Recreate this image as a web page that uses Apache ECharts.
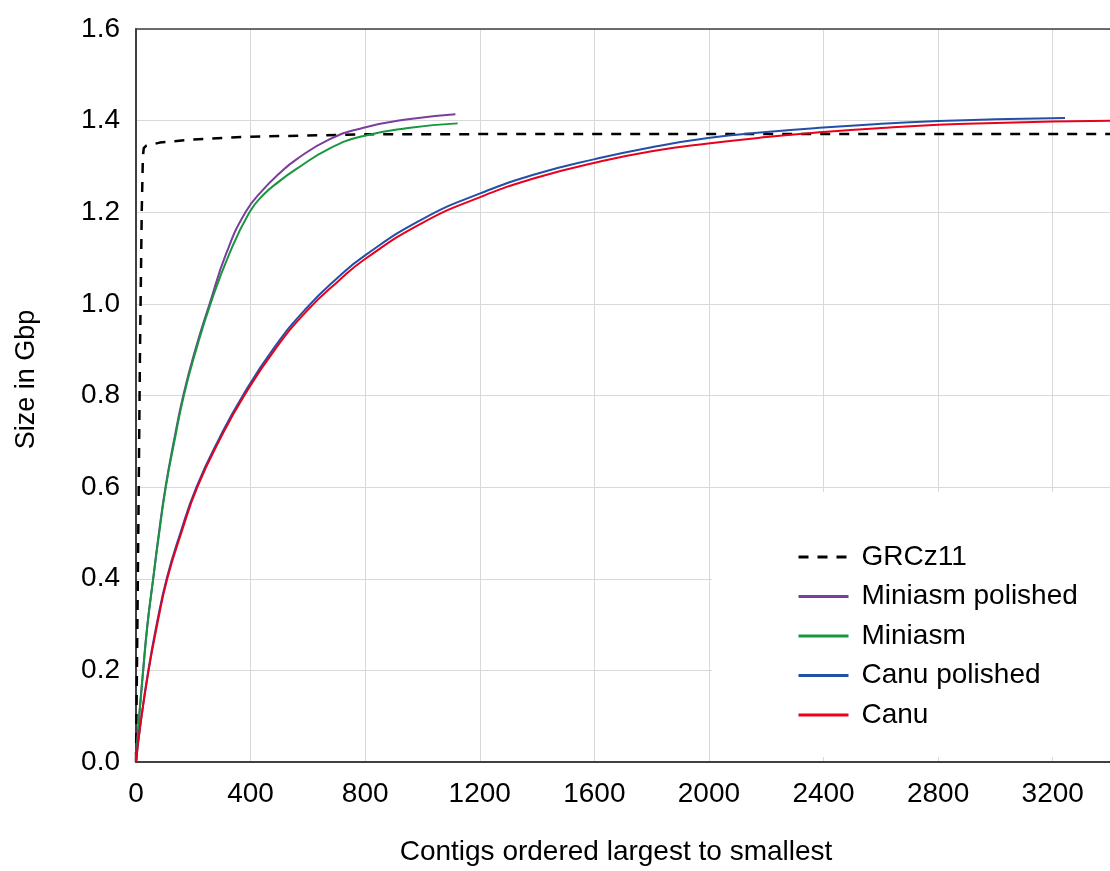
<!DOCTYPE html>
<html>
<head>
<meta charset="utf-8">
<script src="https://cdn.jsdelivr.net/npm/echarts@6/dist/echarts.min.js"></script>
<style>
  html, body { margin: 0; padding: 0; background: #fff; }
  #chart { width: 1110px; height: 871px; }
</style>
</head>
<body>
<div id="chart"></div>
<script>
'use strict';

// contigs (x) and cumulative size in Gbp (y)
const grcX = [0, 8, 14, 20, 24, 27, 35, 83, 200, 400, 800, 1500, 3400];
const grcY = [0, 0.5, 0.9, 1.2, 1.32, 1.34, 1.345, 1.352, 1.359, 1.365, 1.370, 1.371, 1.371];

const miniPolX = [0, 10, 25, 40, 60, 80, 103, 132, 165, 207, 257, 315, 382, 443, 501, 559, 675, 791, 950, 1115];
const miniPolY = [0, 0.09, 0.2, 0.3, 0.4, 0.5, 0.6, 0.7, 0.8, 0.9, 1.0, 1.11, 1.2, 1.249, 1.285, 1.315, 1.359, 1.384, 1.403, 1.414];

const miniX = [0, 10, 25, 40, 60, 81, 104, 134, 167, 210, 260, 325, 396, 443, 501, 559, 675, 791, 950, 1123];
const miniY = [0, 0.09, 0.2, 0.3, 0.4, 0.5, 0.6, 0.7, 0.8, 0.9, 1.0, 1.108, 1.2, 1.237, 1.268, 1.294, 1.339, 1.366, 1.384, 1.394];

const canuPolX = [0, 15, 43, 72, 107, 155, 211, 292, 373, 483, 594, 700, 802, 1000, 1197, 1400, 1602, 1800, 1997, 2200, 2399, 2600, 2800, 3000, 3243];
const canuPolY = [0, 0.08, 0.2, 0.3, 0.4, 0.5, 0.6, 0.708, 0.8, 0.905, 0.99, 1.055, 1.107, 1.185, 1.240, 1.284, 1.316, 1.342, 1.362, 1.375, 1.385, 1.393, 1.399, 1.403, 1.406];

const canuX = [0, 15, 44, 74, 109, 158, 214, 296, 378, 488, 600, 705, 802, 1000, 1197, 1400, 1602, 1800, 1997, 2200, 2399, 2600, 2800, 3000, 3200, 3400];
const canuY = [0, 0.08, 0.2, 0.3, 0.4, 0.5, 0.6, 0.708, 0.8, 0.903, 0.987, 1.049, 1.099, 1.177, 1.232, 1.276, 1.308, 1.333, 1.350, 1.364, 1.375, 1.384, 1.391, 1.395, 1.398, 1.400];

const FONT = 'Liberation Sans, Arial, sans-serif';

function zip(xs, ys) {
  return xs.map((x, i) => [x, ys[i]]);
}

function lineSeries(name, xs, ys, color, extra) {
  return Object.assign({
    name: name,
    type: 'line',
    data: zip(xs, ys),
    symbol: 'none',
    smooth: 0.5,
    lineStyle: {color: color, width: 2},
    itemStyle: {color: color}
  }, extra || {});
}

const chart = echarts.init(document.getElementById('chart'));
chart.setOption({
  animation: false,
  backgroundColor: '#fff',
  grid: {left: 136, top: 29, right: -3, bottom: 104},
  legend: {
    orient: 'vertical',
    left: 712,
    top: 492,
    backgroundColor: '#fff',
    padding: [51, 40, 28, 85],
    itemWidth: 50,
    itemHeight: 14,
    itemGap: 11.5,
    itemStyle: {opacity: 0},
    lineStyle: {width: 3},
    textStyle: {fontFamily: FONT, fontSize: 28, lineHeight: 28, color: '#000', padding: [0, 0, 0, 8]},
    data: ['GRCz11', 'Miniasm polished', 'Miniasm', 'Canu polished', 'Canu']
  },
  xAxis: [{
    type: 'value',
    min: 0,
    max: 3400,
    interval: 400,
    name: 'Contigs ordered largest to smallest',
    nameLocation: 'middle',
    nameGap: 76,
    nameTextStyle: {fontFamily: FONT, fontSize: 28, color: '#000', padding: [0, 14, 0, 0]},
    axisLine: {show: true, lineStyle: {color: '#404040', width: 2}},
    axisTick: {show: false},
    axisLabel: {fontFamily: FONT, fontSize: 28, color: '#000', margin: 18, showMaxLabel: false,
      formatter: (v) => String(v)},
    splitLine: {show: true, lineStyle: {color: '#d9d9d9', width: 1}}
  }, {
    // top frame line only
    type: 'value',
    position: 'top',
    min: 0,
    max: 3400,
    axisLine: {show: true, lineStyle: {color: '#404040', width: 1.5}},
    axisTick: {show: false},
    axisLabel: {show: false},
    splitLine: {show: false}
  }],
  yAxis: {
    type: 'value',
    min: 0,
    max: 1.6,
    interval: 0.2,
    name: 'Size in Gbp',
    nameLocation: 'middle',
    nameGap: 96,
    nameTextStyle: {fontFamily: FONT, fontSize: 27, color: '#000', padding: [0, 0, 0, 32]},
    axisLine: {show: true, lineStyle: {color: '#404040', width: 2}},
    axisTick: {show: false},
    axisLabel: {fontFamily: FONT, fontSize: 28, color: '#000', margin: 16,
      formatter: (v) => v.toFixed(1)},
    splitLine: {show: true, lineStyle: {color: '#d9d9d9', width: 1}}
  },
  series: [
    lineSeries('GRCz11', grcX, grcY, '#000', {
      smooth: false,
      lineStyle: {color: '#000', width: 2.5, type: [10, 9]}
    }),
    lineSeries('Miniasm polished', miniPolX, miniPolY, '#7a3e9d'),
    lineSeries('Miniasm', miniX, miniY, '#16963f'),
    lineSeries('Canu polished', canuPolX, canuPolY, '#2250a8'),
    lineSeries('Canu', canuX, canuY, '#e8001c')
  ]
});
</script>
</body>
</html>
